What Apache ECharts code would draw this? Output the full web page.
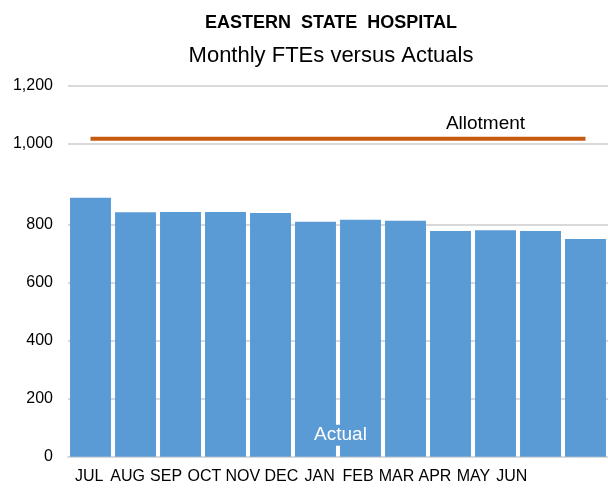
<!DOCTYPE html>
<html>
<head>
<meta charset="utf-8">
<script src="https://cdn.jsdelivr.net/npm/echarts@6/dist/echarts.min.js"></script>
<style>
  html, body { margin: 0; padding: 0; background: #fff; }
  #chart { width: 608px; height: 489px; }
</style>
</head>
<body>
<div id="chart"></div>
<script>
const months = ['JUL', 'AUG', 'SEP', 'OCT', 'NOV', 'DEC', 'JAN', 'FEB', 'MAR', 'APR', 'MAY', 'JUN'];
const actual = [893, 843, 844, 844, 840, 810, 817, 814, 778, 781, 778, 751];
const allotment = [1018, 1018, 1018, 1018, 1018, 1018, 1018, 1018, 1018, 1018, 1018, 1018];
const lowerTicks = [0, 800, 200];   // min, max, interval
const upperTicks = [1000, 1200, 200];

const font = "'Liberation Sans', 'Open Sans', sans-serif";
const blue = '#5B9BD5';
const grey = '#D9D9D9';

const chart = echarts.init(document.getElementById('chart'));

const option = {
  animation: false,
  title: [
    {
      text: 'EASTERN  STATE  HOSPITAL',
      left: 326, top: 9, textAlign: 'center',
      textStyle: { fontFamily: font, fontSize: 18, fontWeight: 'bold', color: '#000' },
    },
    {
      text: 'Monthly FTEs versus Actuals',
      left: 326, top: 40, textAlign: 'center',
      textStyle: { fontFamily: font, fontSize: 22, fontWeight: 'normal', color: '#000' },
    },
  ],
  grid: [
    { left: 68, right: -6, top: 224.7, bottom: 32.3 },   // bars, 0-800
    { left: 68, right: -6, top: 86, height: 58 },         // 1000-1200
    { left: 70, right: 77, top: 224.7, bottom: 32.3 },    // month labels
  ],
  xAxis: [
    {
      gridIndex: 0, type: 'category', data: months,
      axisLine: { lineStyle: { color: grey, width: 2 } },
      axisTick: { show: false }, axisLabel: { show: false },
    },
    {
      gridIndex: 1, type: 'category', data: months, show: false,
    },
    {
      gridIndex: 2, type: 'category', data: months,
      axisLine: { show: false }, axisTick: { show: false },
      axisLabel: { interval: 0, margin: 12, fontFamily: font, fontSize: 16, color: '#000' },
    },
  ],
  yAxis: [
    {
      gridIndex: 0, type: 'value',
      min: lowerTicks[0], max: lowerTicks[1], interval: lowerTicks[2],
      axisLine: { show: false }, axisTick: { show: false },
      axisLabel: { margin: 15, fontFamily: font, fontSize: 16, color: '#000' },
      splitLine: { lineStyle: { color: grey, width: 2 } },
    },
    {
      gridIndex: 1, type: 'value',
      min: upperTicks[0], max: upperTicks[1], interval: upperTicks[2],
      axisLine: { show: false }, axisTick: { show: false },
      axisLabel: {
        margin: 15, fontFamily: font, fontSize: 16, color: '#000',
        formatter: (v) => v.toLocaleString('en-US'),
      },
      splitLine: { lineStyle: { color: grey, width: 2 } },
    },
    {
      gridIndex: 2, type: 'value', show: false, min: 0, max: 800,
    },
  ],
  series: [
    {
      name: 'Actual',
      type: 'bar',
      xAxisIndex: 0, yAxisIndex: 0,
      clip: false,
      barCategoryGap: '9%',
      itemStyle: { color: blue },
      data: actual.map((v, i) => (i === 6 ? {
        value: v,
        label: {
          show: true, formatter: 'Actual', position: 'insideBottom', distance: 11,
          offset: [-20, 0], fontFamily: font, fontSize: 19, color: '#fff',
          backgroundColor: blue, padding: [1, 4],
        },
      } : v)),
    },
    {
      name: 'Allotment',
      type: 'line',
      xAxisIndex: 1, yAxisIndex: 1,
      symbol: 'circle', symbolSize: 0,
      clip: false,
      lineStyle: { color: '#C55A11', width: 4, cap: 'butt' },
      data: allotment.map((v, i) => (i === 9 ? {
        value: v,
        label: {
          show: true, formatter: 'Allotment', position: 'top', distance: 6,
          offset: [-10, 0], fontFamily: font, fontSize: 19, color: '#000',
        },
      } : v)),
    },
  ],
};

chart.setOption(option);
</script>
</body>
</html>
